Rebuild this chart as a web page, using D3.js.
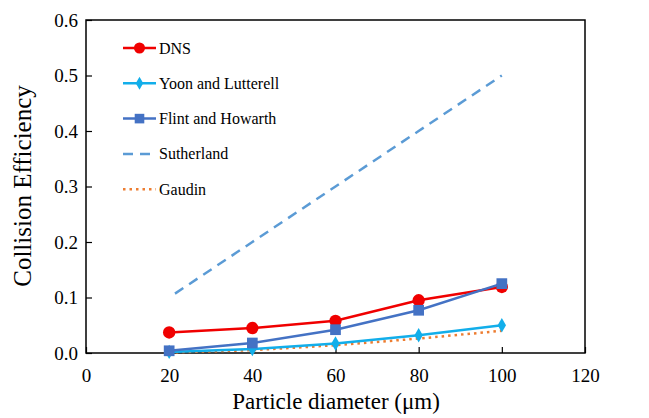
<!DOCTYPE html>
<html>
<head>
<meta charset="utf-8">
<script src="https://cdn.jsdelivr.net/npm/d3@7"></script>
<style>
  body { margin: 0; background: #fff; }
  text { font-family: "Liberation Serif", "Times New Roman", serif; }
</style>
</head>
<body>
<svg id="chart" width="649" height="418"></svg>
<script>
var diameters = [20, 40, 60, 80, 100];
var dns = [0.037, 0.045, 0.058, 0.095, 0.119];
var yoon = [0.002, 0.007, 0.017, 0.032, 0.050];
var flint = [0.004, 0.018, 0.042, 0.077, 0.125];
var sutherland = [0.1, 0.2, 0.3, 0.4, 0.5];
var gaudin = [0.001, 0.005, 0.014, 0.026, 0.040];
var xTicks = [0, 20, 40, 60, 80, 100, 120];
var yTicks = [0, 0.1, 0.2, 0.3, 0.4, 0.5, 0.6];

var series = [
  { name: 'DNS', values: dns, color: '#f00000', marker: 'circle', dash: null, width: 2.5 },
  { name: 'Yoon and Lutterell', values: yoon, color: '#12aeea', marker: 'diamond', dash: null, width: 2.5 },
  { name: 'Flint and Howarth', values: flint, color: '#4472c4', marker: 'square', dash: null, width: 2.5 },
  { name: 'Sutherland', values: sutherland, color: '#5b9bd5', marker: null, dash: '10,7', width: 2.5 },
  { name: 'Gaudin', values: gaudin, color: '#ed7d31', marker: null, dash: '2.5,4', width: 2.5 }
];

var svg = d3.select('#chart');
var pLeft = 86, pRight = 585, pTop = 20, pBottom = 353;

var x = d3.scaleLinear().domain([0, 120]).range([pLeft, pRight]);
var y = d3.scaleLinear().domain([0, 0.6]).range([pBottom, pTop]);

// frame
svg.append('rect')
  .attr('x', pLeft).attr('y', pTop)
  .attr('width', pRight - pLeft).attr('height', pBottom - pTop)
  .attr('fill', 'none').attr('stroke', '#000').attr('stroke-width', 1.5);

var xAxis = svg.append('g').attr('transform', 'translate(0,' + pBottom + ')')
  .call(d3.axisBottom(x).tickValues(xTicks).tickSizeInner(-6).tickSizeOuter(0).tickPadding(16)
    .tickFormat(d3.format('d')));
var yAxis = svg.append('g').attr('transform', 'translate(' + pLeft + ',0)')
  .call(d3.axisLeft(y).tickValues(yTicks).tickSizeInner(-6).tickSizeOuter(0).tickPadding(8)
    .tickFormat(d3.format('.1f')));

[xAxis, yAxis].forEach(function (g) {
  g.attr('font-family', '"Liberation Serif", serif').attr('font-size', 19);
  g.select('.domain').remove();
  g.selectAll('.tick line').attr('stroke', '#000').attr('stroke-width', 1.2);
  g.selectAll('.tick text').attr('font-size', 19).attr('fill', '#000')
    .style('font-family', '"Liberation Serif", serif');
});

svg.append('text')
  .attr('x', 336).attr('y', 409)
  .attr('text-anchor', 'middle').attr('font-size', 23)
  .text('Particle diameter (μm)');

svg.append('text')
  .attr('transform', 'translate(31,186) rotate(-90)')
  .attr('text-anchor', 'middle').attr('font-size', 25)
  .text('Collision Efficiency');

var line = d3.line()
  .x(function (d, i) { return x(diameters[i]); })
  .y(function (d) { return y(d); });

var symbols = { circle: d3.symbolCircle, diamond: d3.symbolDiamond, square: d3.symbolSquare };
var sizes = { circle: 120, diamond: 60, square: 115 };

// draw series in back-to-front order similar to the original
[4, 3, 1, 0, 2].forEach(function (k) {
  var s = series[k];
  svg.append('path')
    .attr('d', line(s.values))
    .attr('fill', 'none')
    .attr('stroke', s.color)
    .attr('stroke-width', s.width)
    .attr('stroke-dasharray', s.dash)
    .attr('stroke-dashoffset', s.name === 'Sutherland' ? 10 : null);
  if (s.marker) {
    svg.selectAll(null).data(s.values).enter().append('path')
      .attr('transform', function (d, i) { return 'translate(' + x(diameters[i]) + ',' + y(d) + ')'; })
      .attr('d', d3.symbol().type(symbols[s.marker]).size(sizes[s.marker]))
      .attr('fill', s.color);
  }
});

// legend
var legend = svg.append('g');
series.forEach(function (s, i) {
  var ly = 48 + i * 35.3;
  legend.append('line')
    .attr('x1', 123).attr('x2', 156).attr('y1', ly).attr('y2', ly)
    .attr('stroke', s.color).attr('stroke-width', s.width)
    .attr('stroke-dasharray', s.dash);
  if (s.marker) {
    legend.append('path')
      .attr('transform', 'translate(139.5,' + ly + ')')
      .attr('d', d3.symbol().type(symbols[s.marker]).size(sizes[s.marker] * 0.8))
      .attr('fill', s.color);
  }
  legend.append('text')
    .attr('x', 159).attr('y', ly + 5.5)
    .attr('font-size', 16)
    .text(s.name);
});
</script>
</body>
</html>
